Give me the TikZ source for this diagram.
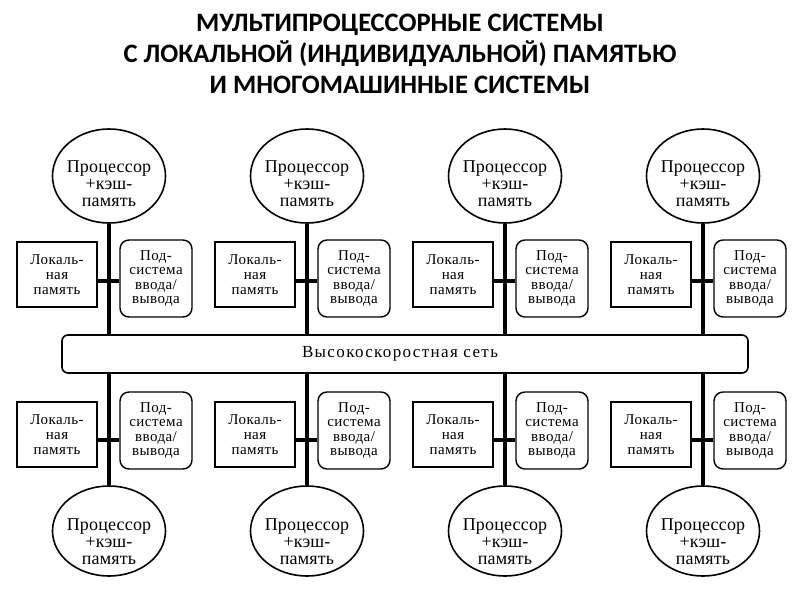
\documentclass[tikz,border=0pt]{standalone}
\usepackage{fontspec}
\setmainfont{Liberation Serif}
\newfontfamily\titlefont{Carlito}
\newfontfamily\procfont[LetterSpace=1]{Liberation Serif}
\newfontfamily\boxfont[LetterSpace=3]{Liberation Serif}
\newfontfamily\netfont[LetterSpace=8]{Liberation Serif}
\usetikzlibrary{shapes.geometric}
\tikzset{
  proc/.style={ellipse, draw, line width=1.6pt, minimum width=113pt, minimum height=94pt, inner sep=0pt},
  proctext/.style={align=center, inner sep=0pt, font=\procfont\fontsize{18}{17}\selectfont},
  lmem/.style={rectangle, draw, line width=1.4pt, minimum width=80pt, minimum height=65pt, inner sep=0pt, align=center, font=\boxfont\fontsize{15}{15}\selectfont},
  iosys/.style={rectangle, rounded corners=9pt, draw, line width=1.4pt, minimum width=72pt, minimum height=77pt, inner sep=0pt, align=center, font=\boxfont\fontsize{15}{14.5}\selectfont},
  bus/.style={line width=4pt},
  netbar/.style={rectangle, rounded corners=6pt, draw, fill=white, line width=1.6pt, minimum width=686pt, minimum height=38pt, inner sep=0pt, font=\netfont\fontsize{17}{17}\selectfont},
  ttl/.style={align=center, inner sep=0pt, font=\titlefont\bfseries\fontsize{26.6}{31}\selectfont}
}
\begin{document}
\begin{tikzpicture}[x=1pt,y=-1pt]
\useasboundingbox (0,0) rectangle (800,600);
\fill[white] (0,0) rectangle (800,600);

\node[ttl] (title) at (400,54) {МУЛЬТИПРОЦЕССОРНЫЕ СИСТЕМЫ\\С ЛОКАЛЬНОЙ (ИНДИВИДУАЛЬНОЙ) ПАМЯТЬЮ\\И МНОГОМАШИННЫЕ СИСТЕМЫ};

\node[netbar] (net) at (405,354) {\hspace*{-10pt}Высокоскоростная сеть};

\foreach \i/\x in {1/109,2/307,3/505,4/703}{
  % top group
  \node[proc, label={[proctext, yshift=-8pt]center:Процессор\\+кэш-\\память}] (pt\i) at (\x,176) {};
  \node[lmem] (lt\i) at (\x-52,274.5) {Локаль-\\ная\\память};
  \node[iosys] (st\i) at (\x+47,278.5) {Под-\\система\\ввода/\\вывода};
  \coordinate (ct\i) at (\x,281);
  \draw[bus] (pt\i.south) -- (pt\i.south |- net.north);
  \draw[bus] (lt\i.east |- ct\i) -- (st\i.west |- ct\i);
  % bottom group
  \node[proc, minimum height=90pt, label={[proctext, yshift=-11pt]center:Процессор\\+кэш-\\память}] (pb\i) at (\x,531) {};
  \node[lmem] (lb\i) at (\x-52,434.5) {Локаль-\\ная\\память};
  \node[iosys] (sb\i) at (\x+47,430.5) {Под-\\система\\ввода/\\вывода};
  \coordinate (cb\i) at (\x,440);
  \draw[bus] (pb\i.north) -- (pb\i.north |- net.south);
  \draw[bus] (lb\i.east |- cb\i) -- (sb\i.west |- cb\i);
}
\end{tikzpicture}
\end{document}
